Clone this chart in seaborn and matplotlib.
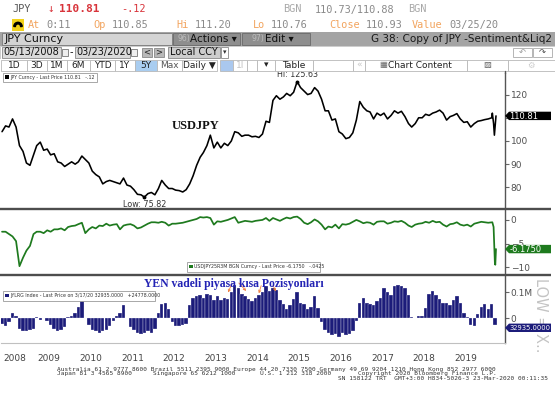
"""
plot.py

Rebuilds a Bloomberg terminal screenshot (JPY Curncy, G 38 Sentiment&Liq2):
USDJPY spot, 3M 25-delta risk reversal and the JYLRG positioning index,
with the terminal header drawn around it.

Saves out.png (555x400 px).
"""

import matplotlib
matplotlib.use("Agg")

import numpy as np
import pandas as pd
import matplotlib.pyplot as plt
import matplotlib.dates as mdates
from matplotlib.patches import Rectangle, Polygon, Wedge
from matplotlib.ticker import FixedLocator, FixedFormatter, NullFormatter
import seaborn as sns

W, H = 555, 400

# ---------------------------------------------------------------------------
# data (monthly samples, mid-month, May 2008 ->)
# ---------------------------------------------------------------------------
usdjpy_monthly = [
    104.0, 106.5, 106.0, 109.5, 106.0, 98.0, 95.5, 90.5,                        # 2008
    89.5, 94.0, 98.0, 99.5, 96.0, 96.5, 94.0, 94.5, 91.0, 90.5, 89.0, 90.0,     # 2009
    91.0, 90.0, 91.0, 93.5, 92.0, 90.5, 87.0, 85.5, 84.5, 81.5, 82.5, 83.0,     # 2010
    82.5, 82.0, 81.5, 84.0, 81.0, 80.5, 79.0, 77.0, 76.8, 75.8, 77.3, 77.8,     # 2011
    76.8, 79.5, 83.0, 81.0, 79.5, 79.5, 78.8, 78.6, 78.0, 79.0, 81.5, 85.0,     # 2012
    89.5, 93.0, 95.0, 98.0, 102.5, 97.0, 99.5, 97.0, 99.0, 98.0, 100.0, 104.0,  # 2013
    103.5, 102.0, 102.5, 102.5, 101.8, 102.0, 101.5, 103.0, 108.5, 108.0, 117.5, 119.5,  # 2014
    118.0, 119.0, 120.5, 119.5, 121.0, 125.6, 123.0, 121.5, 120.0, 120.5, 123.0, 121.5,  # 2015
    118.0, 113.0, 113.0, 109.0, 109.5, 104.0, 103.0, 101.0, 101.5, 103.5, 109.0, 117.0,  # 2016
    114.5, 113.0, 112.5, 109.5, 112.0, 111.0, 112.0, 109.5, 111.0, 113.0, 112.0, 112.8,  # 2017
    110.5, 107.5, 106.0, 107.5, 110.0, 110.0, 111.5, 111.0, 112.0, 112.5, 113.3, 112.0,  # 2018
    109.0, 110.5, 111.0, 111.8, 109.5, 108.0, 108.3, 106.0, 107.5, 108.5, 108.8, 109.2,  # 2019
    109.5, 110.0,                                                                # 2020
]
tail_dates = ["2020-02-20", "2020-03-02", "2020-03-09", "2020-03-13", "2020-03-17", "2020-03-23"]
usdjpy_tail = [112.0, 107.5, 102.5, 105.0, 107.5, 110.81]

rr_monthly = [
    -2.5, -2.5, -3.0, -3.5, -4.5, -9.8, -8.0, -6.5,                  # 2008
    -5.5, -3.0, -2.5, -2.5, -2.8, -2.2, -2.5, -2.0, -2.0, -1.8, -2.2, -1.5,  # 2009
    -1.3, -1.2, -0.9, -0.6, -2.8, -2.0, -1.5, -1.8, -1.2, -1.3, -0.8, -1.2,  # 2010
    -1.0, -0.9, -2.0, -1.2, -1.0, -0.9, -1.2, -1.8, -1.6, -1.2, -0.8, -0.5,  # 2011
    -0.5, -0.6, -0.4, -0.6, -1.2, -0.8, -0.8, -0.7, -0.6, -0.4, -0.2, 0.0,   # 2012
    0.2, 0.6, 0.5, 0.6, 0.4, -1.0, -0.3, -0.4, -0.2, 0.0, 0.3, 0.6,          # 2013
    -0.6, -0.4, -0.2, -0.3, -0.4, -0.2, -0.1, 0.0, 0.4, -0.2, 0.4, 0.1,      # 2014
    -0.2, 0.2, 0.5, 0.3, 0.6, 0.7, 0.2, -0.6, -0.9, -0.5, 0.1, -0.3,         # 2015
    -1.0, -2.0, -1.4, -1.6, -1.0, -1.8, -0.9, -1.0, -0.8, -0.4, 0.0, -0.3,   # 2016
    -0.7, -0.5, -0.6, -1.0, -0.4, -0.3, -0.3, -0.8, -0.6, -0.3, -0.4, -0.2,  # 2017
    -0.6, -1.2, -1.5, -1.0, -0.8, -0.7, -0.4, -0.6, -0.2, -0.5, -0.4, -1.0,  # 2018
    -1.4, -0.9, -0.8, -0.5, -1.0, -1.2, -1.0, -1.4, -0.8, -0.6, -0.4, -0.5,  # 2019
    -0.6, -0.5,                                                       # 2020
]
rr_tail = [-0.5, -1.5, -6.0, -9.0, -9.5, -6.175]

# JYLRG index, thousands of contracts, May 2008 .. Mar 2020
jylrg_monthly = [
    -20, -30, -15, 20, 10, -40, -48, -50,                       # 2008
    -45, -40, 5, -5, 0, -10, -25, -40, -50, -45, -35, 5,        # 2009
    10, 20, 45, 65, 0, -25, -45, -50, -55, -50, -45, -30,       # 2010
    -10, 10, 20, 50, 0, -35, -45, -55, -60, -55, -50, -58,      # 2011
    -40, 20, 55, 60, 35, -15, -30, -30, -25, -20, 50, 80,       # 2012
    85, 90, 80, 95, 90, 70, 85, 70, 80, 75, 100, 130,           # 2013
    115, 95, 85, 75, 65, 80, 90, 100, 125, 105, 115, 110,       # 2014
    70, 55, 35, 50, 75, 100, 60, 55, 35, 45, 85, 40,            # 2015
    -15, -45, -55, -65, -60, -70, -55, -65, -60, -50, -10, 60,  # 2016
    80, 60, 55, 50, 65, 80, 115, 100, 90, 125, 130, 125,        # 2017
    115, 90, 5, 3, 8, 10, 40, 95, 105, 90, 75, 60,              # 2018
    60, 50, 70, 85, 60, 20, 5, -25, -30, 15, 45, 55,            # 2019
    35, 55, -25,                                                # 2020
]

year_labels = [str(y) for y in range(2008, 2020)]
px_ticks = [80, 90, 100, 110, 120]
px_tick_labels = ["80", "90", "100", "", "120"]   # 110 sits under the last-price flag
rr_ticks = [-10, -5, 0]
pos_ticks = [0, 100]
pos_tick_labels = ["0", "0.1M"]

last_px, last_rr, last_pos = "110.81", "-6.1750", "32935.0000"
hi_label, lo_label = "Hi: 125.63", "Low: 75.82"

# ---------------------------------------------------------------------------
months = pd.date_range("2008-05-01", periods=len(usdjpy_monthly), freq="MS") + pd.Timedelta(days=14)
bar_months = pd.date_range("2008-05-01", periods=len(jylrg_monthly), freq="MS") + pd.Timedelta(days=14)
tail = pd.to_datetime(tail_dates)

df_px = pd.DataFrame({"date": months.append(tail), "value": usdjpy_monthly + usdjpy_tail})
df_rr = pd.DataFrame({"date": months.append(tail), "value": rr_monthly + rr_tail})
df_pos = pd.DataFrame({"date": bar_months, "value": jylrg_monthly})

sns.set_style("white")
plt.rcParams["font.family"] = ["DejaVu Sans"]
MONO = "DejaVu Sans Mono"
NAVY = "#1c1c7a"
GREEN = "#1e7a1e"
AXC = "#555555"


def px_rect(x0, y0, x1, y1):
    return [x0 / W, 1 - y1 / H, (x1 - x0) / W, (y1 - y0) / H]


fig = plt.figure(figsize=(W / 100, H / 100), dpi=100)
fig.patch.set_facecolor("white")

ax1 = fig.add_axes(px_rect(1, 73, 505, 208))
ax2 = fig.add_axes(px_rect(1, 210, 505, 273.5))
ax3 = fig.add_axes(px_rect(1, 276, 505, 343))

sns.lineplot(data=df_px, x="date", y="value", ax=ax1, color="black", linewidth=1.15)
sns.lineplot(data=df_rr, x="date", y="value", ax=ax2, color=GREEN, linewidth=1.25)
ax3.bar(df_pos["date"], df_pos["value"], width=30, color=NAVY, edgecolor="white", linewidth=0.2)

xmin = mdates.date2num(pd.Timestamp("2008-05-06"))
xmax = mdates.date2num(pd.Timestamp("2020-06-10"))

for ax in (ax1, ax2, ax3):
    ax.set_xlim(xmin, xmax)
    ax.set_xlabel("")
    ax.set_ylabel("")
    ax.yaxis.tick_right()
    for s in ("left", "top", "bottom"):
        ax.spines[s].set_visible(False)
    ax.spines["right"].set_color(AXC)
    ax.spines["right"].set_linewidth(1.0)
    ax.tick_params(axis="y", direction="out", length=3, width=0.8, color="#666666",
                   labelsize=6.5, labelcolor="#505050", pad=1)

for ax in (ax1, ax2):
    ax.tick_params(axis="x", bottom=False, labelbottom=False)

ax1.set_ylim(71.1, 129.3)
ax1.yaxis.set_major_locator(FixedLocator(px_ticks))
ax1.yaxis.set_major_formatter(FixedFormatter(px_tick_labels))
ax2.set_ylim(-11.35, 2.1)
ax2.yaxis.set_major_locator(FixedLocator(rr_ticks))
ax3.set_ylim(-95, 162.7)
ax3.yaxis.set_major_locator(FixedLocator(pos_ticks))
ax3.yaxis.set_major_formatter(FixedFormatter(pos_tick_labels))

# year axis under the bottom panel
ax3.spines["bottom"].set_visible(True)
ax3.spines["bottom"].set_color("#c0c0c0")
ax3.spines["bottom"].set_linewidth(0.8)
year_starts = [mdates.date2num(pd.Timestamp(f"{y}-01-01")) for y in range(2009, 2021)]
label_pos = [mdates.date2num(pd.Timestamp("2008-09-01"))] + \
            [mdates.date2num(pd.Timestamp(f"{y}-07-01")) for y in range(2009, 2020)]
ax3.xaxis.set_major_locator(FixedLocator(year_starts))
ax3.xaxis.set_major_formatter(NullFormatter())
ax3.xaxis.set_minor_locator(FixedLocator(label_pos))
ax3.xaxis.set_minor_formatter(FixedFormatter(year_labels))
ax3.tick_params(axis="x", which="major", direction="out", length=14, width=0.8, color="#c8c8c8")
ax3.tick_params(axis="x", which="minor", length=0, pad=8, labelsize=6.5, labelcolor="#444444")

# hi / low markers
i_hi = df_px["value"].idxmax()
i_lo = df_px["value"].idxmin()
for i, lab, off, va in ((i_hi, hi_label, 2, "bottom"), (i_lo, lo_label, -2, "top")):
    x, y = df_px.loc[i, "date"], df_px.loc[i, "value"]
    ax1.plot([x], [y], marker="o", markersize=1.8, color="black")
    ax1.annotate(lab, (x, y), xytext=(0, off), textcoords="offset points",
                 ha="center", va=va, fontsize=5.8, color="#333333")

# ---------------------------------------------------------------------------
# overlay in screen pixels: terminal header, legends, value flags, footer
# ---------------------------------------------------------------------------
ov = fig.add_axes([0, 0, 1, 1], zorder=10)
ov.set_xlim(0, W)
ov.set_ylim(H, 0)
ov.axis("off")
ov.patch.set_alpha(0)


def box(x0, y0, x1, y1, fc, ec="none", lw=0.6, z=1):
    ov.add_patch(Rectangle((x0, y0), x1 - x0, y1 - y0, facecolor=fc, edgecolor=ec, linewidth=lw, zorder=z))


def txt(x, y, s, size=7, color="#222222", ha="left", va="center", **kw):
    ov.text(x, y, s, fontsize=size, color=color, ha=ha, va=va, **kw)


# row 1 - quote line
RED = "#d8333a"
ORANGE = "#f2a45e"
GREY = "#8a8a8a"
txt(12, 9.5, "JPY", 7.4, "#555555", family=MONO)
txt(47, 9.5, "↓", 8, RED, family=MONO)
txt(59, 9.5, "110.81", 8, RED, family=MONO, fontweight="bold")
txt(121, 9.5, "-.12", 7.4, RED, family=MONO)
txt(283, 9.5, "BGN", 7.4, "#a8a8a8", family=MONO)
txt(315, 9.5, "110.73/110.88", 7.4, GREY, family=MONO)
txt(408, 9.5, "BGN", 7.4, "#a8a8a8", family=MONO)

# row 2 - session line
box(12, 19, 24, 30.5, "#f2d21b")
ov.add_patch(Wedge((18, 26.5), 4.2, 180, 360, width=1.6, color="black"))
for x, s, c in ((28, "At", ORANGE), (46, "0:11", GREY), (93, "Op", ORANGE), (112, "110.85", GREY),
                (176, "Hi", ORANGE), (195, "111.20", GREY), (253, "Lo", ORANGE), (271, "110.76", GREY),
                (329, "Close", ORANGE), (366, "110.93", GREY), (412, "Value", ORANGE),
                (449, "03/25/20", GREY)):
    txt(x, 25, s, 7.4, c, family=MONO)

# row 3 - security bar
box(0, 32, W, 45.5, "#a4a4a4")
box(2, 32.5, 171.5, 45, "#d4d4d4", ec="#7a7a7a")
txt(5, 39, "JPY Curncy", 8, "#111111")
box(173, 32.5, 240, 45, "#8e8e8e", ec="#6a6a6a")
txt(177, 39, "96)", 5.5, "#bdbdbd")
txt(190, 39, "Actions ▾", 7.5, "#111111")
box(242, 32.5, 310, 45, "#8e8e8e", ec="#6a6a6a")
txt(251, 39, "97)", 5.5, "#bdbdbd")
txt(265, 39, "Edit ▾", 7.5, "#111111")
txt(552, 39, "G 38: Copy of JPY -Sentiment&Liq2", 7.5, "#1a1a1a", ha="right")

# row 4 - date range
box(0, 46, W, 58.5, "white", ec="#c4c4c4")
box(2, 47, 61, 57.5, "#dadada", ec="#888888")
txt(3.5, 52.3, "05/13/2008", 7, "#111111")
box(62, 48.5, 68, 56, "#eeeeee", ec="#777777")
txt(70, 52, "-", 7, "#111111")
box(75, 47, 130, 57.5, "#dadada", ec="#888888")
txt(76.5, 52.3, "03/23/2020", 7, "#111111")
box(131, 48.5, 137, 56, "#eeeeee", ec="#777777")
box(142, 48, 152, 57, "#b8b8b8", ec="#888888")
txt(147, 52.3, "<", 6, "#222222", ha="center")
box(154, 48, 164, 57, "#b8b8b8", ec="#888888")
txt(159, 52.3, ">", 6, "#222222", ha="center")
box(168, 47, 220, 57.5, "#cdcdcd", ec="#888888")
txt(170, 52.3, "Local CCY", 7, "#111111")
box(221, 47, 228, 57.5, "white", ec="#888888")
txt(224.5, 52.5, "▾", 5, "#333333", ha="center")
box(513, 48, 532, 57, "white", ec="#aaaaaa")
txt(522.5, 52.5, "↶", 6, "#999999", ha="center")
box(533, 48, 552, 57, "white", ec="#aaaaaa")
txt(542.5, 52.5, "↷", 6, "#444444", ha="center")

# row 5 - toolbar buttons
box(0, 59, W, 71, "white")
buttons = [(1, 27, "1D"), (27, 47, "3D"), (47, 67, "1M"), (67, 90, "6M"), (90, 115, "YTD"),
           (115, 135, "1Y"), (135, 157, "5Y"), (157, 182, "Max"), (182, 217, "Daily ▼"),
           (220, 233, ""), (233, 247, "1l"), (247, 257, ""), (257, 275, "▾"), (275, 313, "Table"),
           (313, 353, ""), (353, 365, "«"), (365, 467, "Chart Content"), (467, 508, ""),
           (508, 555, "")]
for x0, x1, lab in buttons:
    fc = "#a9cdf0" if lab == "5Y" else ("#aac8ee" if x0 == 220 else "white")
    box(x0, 59.5, x1, 70.5, fc, ec="#b8b8b8")
    col = "#c4c4c4" if lab in ("1l", "«") else ("#555555" if lab == "Max" else "#222222")
    if lab == "Chart Content":
        txt(383, 65, "▦", 6, "#666666", ha="center")
        txt(420, 65, lab, 6.5, col, ha="center")
    elif lab:
        txt((x0 + x1) / 2, 65, lab, 6.5, col, ha="center")
txt(487, 65, "▨", 6, "#666666", ha="center")
txt(531, 65, "⚙", 6, "#cccccc", ha="center")

# panel separators and the axis stub above the chart
ov.plot([0, 551], [208.8, 208.8], color="#4d4d4d", lw=1.7, solid_capstyle="butt")
ov.plot([0, 551], [274.8, 274.8], color="#4d4d4d", lw=1.7, solid_capstyle="butt")
ov.plot([505, 505], [70.5, 73], color=AXC, lw=1.0)

# series legends
for (x0, y0, x1, y1), c, s in (
        ((3, 73, 97, 81.5), "black", "JPY Curncy - Last Price 110.81   -.12"),
        ((187, 261.5, 320, 271.5), GREEN, "USDJPY25R3M BGN Curncy - Last Price -6.1750   -.0425"),
        ((3, 290.5, 155, 300.5), NAVY, "JYLRG Index - Last Price on 3/17/20 32935.0000   +24778.0000")):
    box(x0, y0, x1, y1, "white", ec="#9a9a9a", lw=0.6)
    yc = (y0 + y1) / 2
    box(x0 + 2, yc - 1.8, x0 + 5.5, yc + 1.8, c)
    txt(x0 + 7, yc, s, 3.4, "#333333")

# faint side watermark, sits under the value flags
txt(541, 278, "LOW = X..", 10.5, "#c4c4c4", ha="center", va="top", rotation=-90, zorder=0.5)


# last-value flags on the right axis
def flag(yc, s, fc, size):
    ov.add_patch(Polygon([(505, yc), (509, yc - 4.2), (551, yc - 4.2), (551, yc + 4.2), (509, yc + 4.2)],
                         closed=True, facecolor=fc, edgecolor="none", zorder=2))
    txt(509.5, yc + 0.2, s, size, "white", zorder=3)


def to_px(ax, v):
    return H - ax.transData.transform((xmin, v))[1]


flag(to_px(ax1, float(last_px)), last_px, "black", 6.0)
flag(to_px(ax2, float(last_rr)), last_rr, GREEN, 6.0)
flag(327.8, last_pos, NAVY, 4.9)  # terminal pushes this flag below the "0" tick label

# chart titles typed on the chart
txt(172, 126, "USDJPY", 9, "#111111", family="Liberation Serif", fontweight="bold")
for (x0, y0), (x1, y1) in (((233, 281), (227, 295)), ((237, 281), (248, 293)),
                           ((262, 283), (258, 296)), ((272, 283), (277, 294))):
    ov.annotate("", xy=(x1, y1), xytext=(x0, y0),
                arrowprops=dict(arrowstyle="->", color="#ee7b3b", lw=0.6, mutation_scale=4))
txt(144, 284, "YEN vadeli piyasa kısa Pozisyonları", 8.4, "#2323b4",
    family="Liberation Serif", fontweight="bold")

# footer
txt(57, 369, "Australia 61 2 9777 8600 Brazil 5511 2395 9000 Europe 44 20 7330 7500 "
             "Germany 49 69 9204 1210 Hong Kong 852 2977 6000", 4.4, "#333333", family=MONO)
for x, s in ((57, "Japan 81 3 4565 8900"), (153, "Singapore 65 6212 1000"),
             (260, "U.S. 1 212 318 2000"), (358, "Copyright 2020 Bloomberg Finance L.P.")):
    txt(x, 373.5, s, 4.4, "#333333", family=MONO)
txt(338, 378, "SN 158122 TRT  GMT+3:00 H834-5026-3 23-Mar-2020 00:11:35", 4.4, "#333333", family=MONO)

fig.savefig("out.png", dpi=100)
